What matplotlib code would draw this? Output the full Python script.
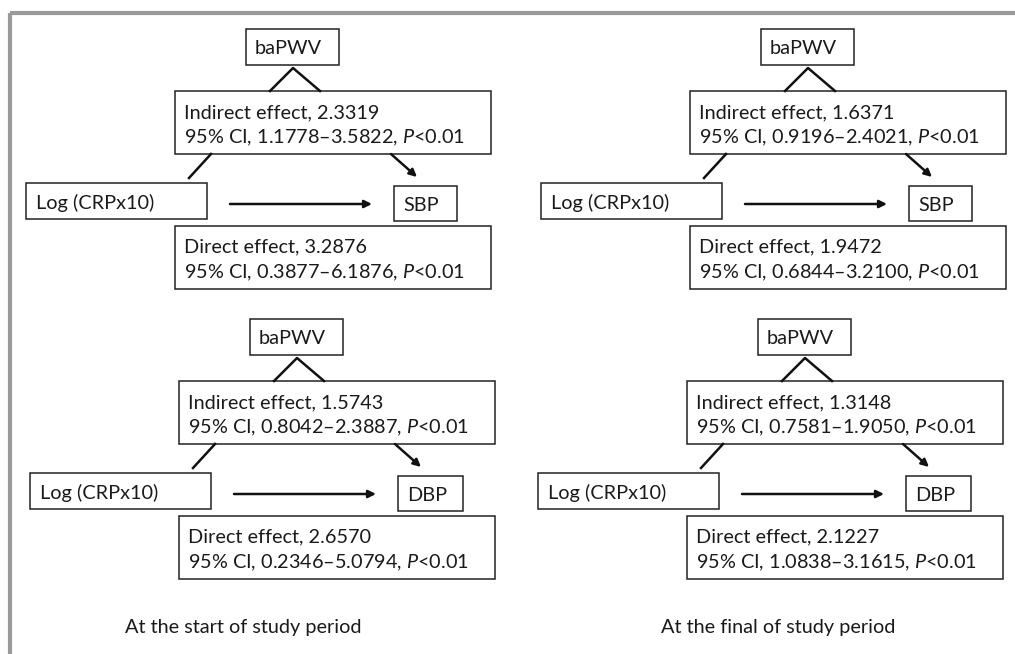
import matplotlib
matplotlib.use("Agg")
import matplotlib.pyplot as plt
from matplotlib.patches import Rectangle, FancyArrowPatch

plt.rcParams['font.family'] = ['Lato', 'DejaVu Sans']
plt.rcParams['mathtext.fontset'] = 'custom'
plt.rcParams['mathtext.rm'] = 'Lato'
plt.rcParams['mathtext.it'] = 'Lato:italic'

# ---- data ----
mediator = "baPWV"
exposure = "Log (CRPx10)"
outcomes = ["SBP", "SBP", "DBP", "DBP"]
indirect_effect = ["2.3319", "1.6371", "1.5743", "1.3148"]
indirect_ci = ["1.1778\u20133.5822", "0.9196\u20132.4021", "0.8042\u20132.3887", "0.7581\u20131.9050"]
direct_effect = ["3.2876", "1.9472", "2.6570", "2.1227"]
direct_ci = ["0.3877\u20136.1876", "0.6844\u20133.2100", "0.2346\u20135.0794", "1.0838\u20133.1615"]
p_text = ["<0.01", "<0.01", "<0.01", "<0.01"]
captions = ["At the start of study period", "At the final of study period"]

W, H = 1015, 654
fig = plt.figure(figsize=(W / 100, H / 100), dpi=100)
ax = fig.add_axes([0, 0, 1, 1])
ax.set_xlim(0, W)
ax.set_ylim(H, 0)
ax.axis('off')

# frame (top and left visible)
ax.plot([9.7, W + 5], [12.5, 12.5], color='#9a9a9a', lw=3, solid_capstyle='butt')
ax.plot([9.7, 9.7], [12.5, H + 5], color='#9a9a9a', lw=3, solid_capstyle='butt')

FS = 14.3
TC = '#1a1a1a'
offsets = [(0, 0), (515, 0), (4, 290), (512, 290)]
out_w = [63, 63, 65, 65]

def box(x0, y0, x1, y1):
    ax.add_patch(Rectangle((x0, y0), x1 - x0, y1 - y0, fill=False,
                           edgecolor='#222222', lw=1.1))

def arrow(x0, y0, x1, y1):
    ax.add_patch(FancyArrowPatch((x0, y0), (x1, y1), arrowstyle='-|>',
                                 mutation_scale=11, lw=1.8, color='#111111',
                                 shrinkA=0, shrinkB=0))

for i, (dx, dy) in enumerate(offsets):
    # mediator box
    box(246 + dx, 29 + dy, 339 + dx, 65 + dy)
    ax.text(255 + dx, 54 + dy, mediator, fontsize=FS, va='baseline', ha='left', color=TC)
    # apex lines
    ax.plot([270 + dx, 293 + dx, 320 + dx], [91 + dy, 68 + dy, 91 + dy], color='#111111', lw=1.8)
    # indirect box
    box(175 + dx, 91 + dy, 491 + dx, 154 + dy)
    ax.text(184 + dx, 118 + dy, f"Indirect effect, {indirect_effect[i]}", fontsize=FS,
            va='baseline', ha='left', color=TC)
    ax.text(184 + dx, 143 + dy, f"95% CI, {indirect_ci[i]}, $\\mathit{{P}}${p_text[i]}",
            fontsize=FS, va='baseline', ha='left', color=TC)
    # line from exposure up to indirect box
    ax.plot([189 + dx, 211 + dx], [178 + dy, 154 + dy], color='#111111', lw=1.8)
    # arrow to outcome
    arrow(391 + dx, 154 + dy, 417 + dx, 177 + dy)
    # exposure box
    box(26 + dx, 183 + dy, 207 + dx, 219 + dy)
    ax.text(36 + dx, 209 + dy, exposure, fontsize=FS, va='baseline', ha='left', color=TC)
    # direct arrow
    arrow(230 + dx, 204 + dy, 372 + dx, 204 + dy)
    # outcome box
    box(394 + dx, 186 + dy, 394 + out_w[i] + dx, 221 + dy)
    ax.text(403 + dx, 211 + dy, outcomes[i], fontsize=FS, va='baseline', ha='left', color=TC)
    # direct box
    box(175 + dx, 226 + dy, 491 + dx, 289 + dy)
    ax.text(184 + dx, 252 + dy, f"Direct effect, {direct_effect[i]}", fontsize=FS,
            va='baseline', ha='left', color=TC)
    ax.text(184 + dx, 278 + dy, f"95% CI, {direct_ci[i]}, $\\mathit{{P}}${p_text[i]}",
            fontsize=FS, va='baseline', ha='left', color=TC)

ax.text(243, 633, captions[0], fontsize=FS, va='baseline', ha='center', color=TC)
ax.text(778, 633, captions[1], fontsize=FS, va='baseline', ha='center', color=TC)

fig.savefig("out.png", dpi=100, facecolor='white')
